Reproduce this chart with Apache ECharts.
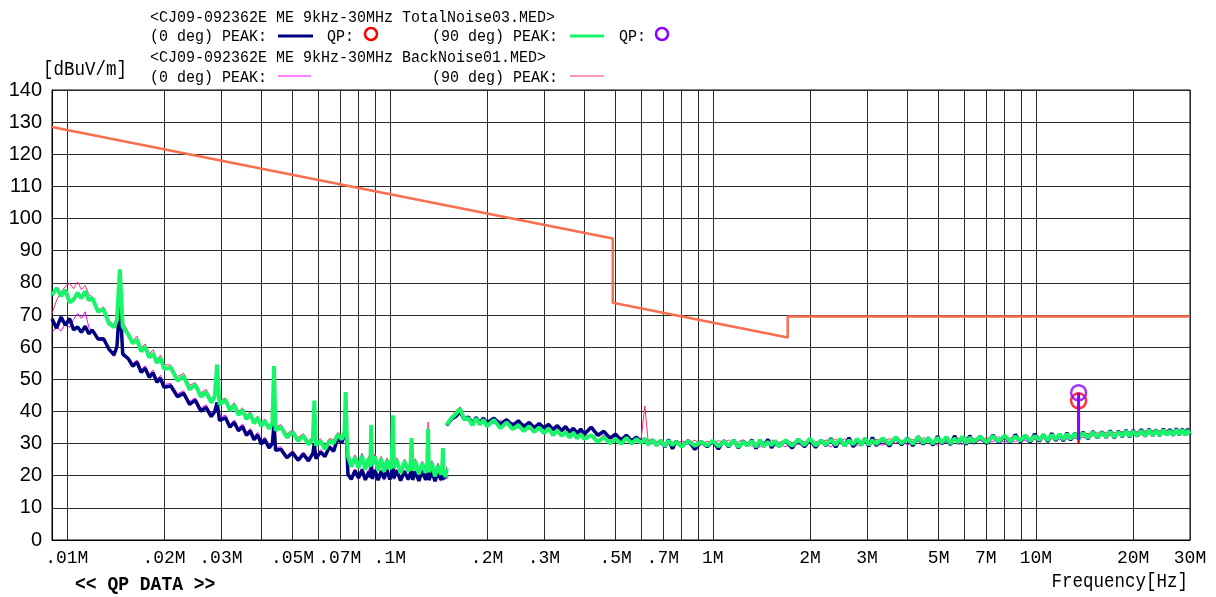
<!DOCTYPE html>
<html>
<head>
<meta charset="utf-8">
<script src="https://cdn.jsdelivr.net/npm/echarts@6.0.0/dist/echarts.min.js"></script>
<style>
html, body { margin: 0; padding: 0; background: #fff; }
#emi_chart { width: 1216px; height: 597px; }
</style>
</head>
<body>
<div id="emi_chart"></div>
<script>
// band 1 : 9kHz - 150kHz (kHz)
var band1Khz = [
    9, 9.3, 9.6, 9.9, 10.2, 10.5, 10.8, 11.1, 11.4, 11.7,
    12, 12.5, 13, 13.5, 14, 14.3, 14.6, 14.9, 15.5, 16,
    16.5, 17, 17.5, 18, 18.5, 19, 19.5, 20, 21, 22,
    23, 24, 25, 26, 27, 28, 28.7, 29.2, 29.7, 31,
    32, 33, 34, 35, 36, 37, 38, 39, 40, 41,
    42.3, 43.3, 43.8, 44.3, 46, 48, 50, 52, 54, 56,
    57.8, 58.4, 59, 61, 63, 65, 67, 69, 71, 72.4,
    73, 73.6, 74.2, 76, 78, 80, 82, 84, 86, 87,
    87.6, 88.2, 90, 92, 94, 96, 98, 100, 101.5, 102.2,
    103, 105, 108, 111, 114, 116, 116.8, 117.6, 120, 123,
    126, 129, 130.6, 131.4, 132.2, 135, 138, 141, 144, 145.3,
    146, 146.7, 149, 150
];
// TotalNoise03 90 deg PEAK
var green1 = [
    76.2, 78.4, 75.9, 77.8, 73.9, 74.8, 76.9, 75.2, 77.4, 74.6,
    75.3, 71.0, 71.8, 67.4, 66.2, 68.5, 84.2, 66.4, 63.9, 61.2,
    62.3, 58.7, 60.1, 56.8, 58.0, 55.1, 56.6, 53.3, 53.6, 49.6,
    51.0, 46.8, 48.3, 44.6, 46.0, 42.7, 44.6, 54.6, 42.1, 43.6,
    40.3, 42.0, 38.9, 40.4, 37.6, 39.2, 36.3, 38.0, 35.4, 37.1,
    34.6, 36.4, 54.1, 34.1, 35.2, 31.9, 33.6, 30.8, 32.4, 29.7,
    31.6, 43.4, 29.4, 30.8, 28.2, 30.9, 30.1, 32.8, 31.3, 33.6,
    46.0, 32.2, 26.1, 22.8, 25.7, 22.4, 26.2, 21.9, 25.4, 22.7,
    35.8, 23.4, 26.0, 21.5, 25.3, 21.2, 24.8, 22.0, 25.6, 38.8,
    22.3, 24.9, 20.8, 24.5, 21.3, 23.9, 31.7, 21.6, 24.6, 20.5,
    23.8, 20.9, 23.4, 34.6, 21.1, 24.0, 19.8, 23.2, 20.3, 22.6,
    28.6, 21.4, 19.6, 22.2
];
// TotalNoise03 0 deg PEAK
var navy1 = [
    68.8, 65.9, 69.4, 66.8, 68.9, 65.4, 66.3, 64.6, 66.5, 64.2,
    65.3, 62.5, 62.6, 59.4, 57.6, 60.2, 74.8, 57.9, 56.4, 54.1,
    55.3, 52.2, 53.4, 50.6, 52.0, 49.1, 50.3, 47.5, 47.9, 44.6,
    45.6, 42.2, 43.5, 40.1, 41.2, 38.4, 39.9, 42.8, 37.2, 38.0,
    35.1, 36.6, 34.0, 35.3, 32.6, 33.9, 31.2, 32.7, 29.8, 31.3,
    28.6, 30.0, 36.2, 27.9, 28.2, 25.6, 27.1, 24.8, 26.7, 24.6,
    27.0, 30.1, 25.3, 27.4, 26.0, 28.9, 27.6, 31.7, 30.2, 33.4,
    35.1, 29.8, 20.4, 18.9, 21.6, 19.3, 21.8, 18.7, 21.2, 19.5,
    24.2, 19.0, 21.7, 18.6, 21.4, 19.1, 21.9, 18.8, 21.0, 25.0,
    19.2, 21.6, 18.5, 21.3, 18.9, 21.0, 23.1, 18.7, 21.2, 18.4,
    21.5, 18.8, 20.9, 23.4, 18.6, 21.4, 18.3, 21.1, 18.7, 20.6,
    24.1, 18.9, 20.8, 19.4
];
// BackNoise01 90 deg PEAK
var pink1 = [
    70.4, 74.6, 77.1, 78.9, 79.8, 78.2, 80.3, 77.9, 79.2, 76.4,
    75.6, 71.4, 72.5, 68.3, 66.9, 69.1, 83.0, 67.9, 64.8, 62.0,
    63.4, 59.8, 61.0, 57.9, 59.2, 56.1, 57.5, 54.6, 54.4, 50.8,
    51.9, 48.1, 49.0, 45.8, 46.9, 43.9, 45.2, 53.8, 43.3, 44.2,
    41.4, 42.7, 40.0, 41.1, 38.7, 39.9, 37.4, 38.6, 36.5, 37.7,
    35.7, 37.0, 52.9, 35.2, 35.9, 33.0, 34.3, 31.9, 33.1, 30.8,
    32.3, 42.6, 30.5, 31.5, 29.3, 31.6, 31.2, 33.5, 32.4, 34.3,
    45.2, 33.0, 26.8, 23.9, 26.5, 23.5, 27.0, 23.0, 26.1, 23.8,
    35.1, 24.5, 26.7, 22.6, 26.0, 22.3, 25.5, 23.1, 26.3, 38.1,
    23.4, 25.6, 21.9, 25.2, 22.4, 24.6, 31.0, 22.7, 25.3, 21.6,
    24.5, 22.0, 24.1, 36.7, 22.2, 24.7, 20.9, 23.9, 21.4, 23.3,
    28.0, 22.5, 20.7, 22.9
];
// BackNoise01 0 deg PEAK
var magenta1 = [
    64.5, 66.2, 65.0, 67.4, 66.1, 68.7, 70.5, 68.9, 71.0, 66.2,
    64.9, 62.1, 62.0, 59.9, 57.1, 59.6, 73.6, 57.2, 57.0, 54.9,
    56.0, 53.1, 54.2, 51.5, 52.9, 50.0, 51.2, 48.4, 48.7, 45.5,
    46.4, 43.1, 44.2, 41.0, 42.1, 39.2, 40.6, 42.1, 38.0, 38.9,
    35.9, 37.3, 34.8, 36.1, 33.4, 34.7, 32.1, 33.5, 30.7, 32.0,
    29.4, 30.7, 35.4, 28.7, 29.0, 26.2, 27.9, 25.5, 27.4, 25.3,
    27.6, 29.5, 26.0, 28.1, 26.7, 29.5, 28.3, 32.2, 31.0, 34.0,
    34.4, 30.5, 21.0, 19.6, 22.1, 18.9, 22.3, 19.2, 21.9, 19.9,
    23.6, 19.5, 22.2, 19.0, 21.9, 18.6, 22.3, 19.3, 21.6, 24.3,
    18.8, 22.0, 19.0, 21.8, 18.5, 21.5, 22.6, 19.1, 21.7, 18.9,
    22.0, 18.4, 21.3, 22.9, 19.0, 21.9, 18.8, 21.6, 18.3, 21.1,
    23.5, 18.5, 21.2, 19.0
];

// band 2 : 150kHz - 30MHz (MHz)
var band2Mhz = [
    0.15, 0.155, 0.16, 0.165, 0.17, 0.175, 0.18, 0.185, 0.19, 0.195,
    0.2, 0.21, 0.22, 0.23, 0.24, 0.25, 0.26, 0.27, 0.28, 0.29,
    0.3, 0.31, 0.32, 0.33, 0.34, 0.35, 0.36, 0.37, 0.38, 0.39, 0.4,
    0.42, 0.44, 0.46, 0.48, 0.5, 0.52, 0.54, 0.56, 0.58, 0.6,
    0.616, 0.63, 0.65, 0.67, 0.69, 0.71, 0.73, 0.75, 0.77, 0.8, 0.84, 0.88, 0.92, 0.96,
    1.0, 1.04, 1.08, 1.12, 1.16, 1.2, 1.24, 1.28, 1.32, 1.36, 1.4, 1.44, 1.48, 1.52, 1.56, 1.6,
    1.68, 1.76, 1.84, 1.92, 2.0, 2.08, 2.16, 2.24, 2.32, 2.4,
    2.48, 2.56, 2.64, 2.72, 2.8, 2.88, 2.96, 3.04, 3.12, 3.2,
    3.36, 3.52, 3.68, 3.84, 4.0, 4.16, 4.32, 4.48, 4.64, 4.8,
    4.96, 5.12, 5.28, 5.44, 5.6, 5.76, 5.92, 6.08, 6.24, 6.4,
    6.72, 7.04, 7.36, 7.68, 8.0, 8.32, 8.64, 8.96, 9.28, 9.6,
    9.92, 10.24, 10.56, 10.88, 11.2, 11.52, 11.84, 12.16, 12.48, 12.8,
    13.2, 13.56, 14.0, 14.5, 15.0, 15.5, 16.0, 16.5, 17.0, 17.5, 18.0, 18.5, 19.0, 19.5, 20.0,
    20.6, 21.2, 21.8, 22.4, 23.0, 23.6, 24.2, 24.8, 25.4, 26.0, 26.6, 27.2, 27.8, 28.4, 29.0, 29.5, 30.0
];
var green2 = [
    35.8, 37.9, 39.2, 40.8, 37.6, 37.9, 35.7, 37.8, 35.9, 37.4,
    35.4, 37.3, 34.8, 36.6, 34.5, 35.7, 33.9, 35.4, 33.6, 35.0,
    33.2, 34.7, 32.6, 34.1, 32.4, 33.6, 31.9, 33.4, 31.6, 32.9, 31.4,
    32.6, 30.5, 32.0, 30.1, 31.5, 29.9, 31.8, 30.0, 31.4, 30.2,
    31.5, 29.6, 31.2, 29.4, 31.0, 29.2, 30.9, 29.5, 30.6, 29.1, 30.8, 29.3, 30.5, 29.4,
    30.9, 29.1, 30.7, 29.3, 31.0, 28.9, 30.6, 29.4, 30.8, 29.0, 31.1, 29.2, 30.5, 29.5, 30.9, 29.1,
    31.0, 29.3, 31.3, 29.5, 31.6, 29.4, 30.9, 29.7, 31.2, 29.6,
    31.4, 29.3, 31.0, 29.8, 31.5, 29.5, 31.7, 29.6, 31.1, 29.9,
    31.6, 29.8, 31.9, 30.1, 31.5, 29.9, 32.0, 30.2, 31.7, 30.0,
    31.8, 30.3, 32.1, 30.0, 31.6, 30.4, 32.2, 30.1, 31.9, 30.5,
    32.1, 30.4, 32.3, 30.7, 32.5, 30.6, 32.2, 30.9, 32.6, 30.8,
    32.4, 31.1, 32.8, 31.0, 32.7, 31.3, 32.9, 31.2, 33.0, 31.5,
    33.1, 31.6, 33.3, 31.8, 33.5, 31.9, 33.4, 32.1, 33.7, 32.0, 33.6, 32.3, 33.9, 32.2, 33.8,
    32.5, 34.0, 32.4, 34.2, 32.6, 34.1, 32.5, 34.3, 32.7, 34.0, 32.6, 34.4, 32.8, 34.2, 32.7, 34.1, 32.9
];
var navy2 = [
    35.6, 37.6, 38.4, 39.9, 37.5, 38.3, 36.2, 38.1, 36.5, 37.9,
    36.4, 37.9, 36.0, 37.4, 35.6, 37.1, 35.2, 36.6, 34.9, 36.2,
    34.9, 36.0, 34.3, 35.6, 34.0, 35.3, 33.5, 34.8, 33.1, 34.5, 32.9,
    35.1, 32.6, 33.8, 31.7, 32.9, 31.0, 32.6, 30.8, 32.0, 30.4,
    31.5, 29.8, 31.1, 29.5, 30.9, 29.0, 31.2, 28.4, 30.7, 29.1, 30.9, 28.2, 30.6, 29.0,
    30.8, 28.3, 30.9, 29.0, 31.1, 28.6, 30.7, 29.3, 31.2, 28.5, 30.8, 29.1, 31.3, 28.7, 30.6, 29.2,
    30.9, 28.6, 31.4, 29.0, 31.2, 28.8, 31.0, 29.4, 31.6, 28.9,
    31.3, 29.2, 31.8, 29.0, 31.1, 29.5, 31.6, 29.1, 31.9, 29.4,
    31.5, 29.2, 32.0, 29.6, 31.7, 29.3, 32.2, 29.8, 31.8, 29.5,
    32.3, 29.9, 31.9, 29.6, 32.4, 30.0, 32.1, 29.7, 32.5, 30.1,
    32.2, 30.0, 32.6, 30.3, 32.4, 30.2, 32.8, 30.5, 32.6, 30.4,
    33.0, 30.7, 32.8, 30.6, 33.2, 30.9, 33.0, 30.8, 33.4, 31.1,
    33.2, 31.4, 33.6, 31.5, 33.8, 31.7, 33.7, 31.9, 34.0, 31.8, 33.9, 32.1, 34.2, 32.0, 34.1,
    32.3, 34.4, 32.2, 34.5, 32.5, 34.3, 32.4, 34.6, 32.6, 34.4, 32.5, 34.7, 32.7, 34.5, 32.6, 34.6, 32.8
];
var pink2 = [
    36.5, 37.8, 40.2, 41.4, 38.6, 37.2, 36.4, 37.9, 36.6, 37.3,
    36.3, 37.2, 35.6, 36.7, 35.3, 34.9, 35.8, 34.3, 35.1, 34.0,
    34.8, 33.7, 34.4, 33.1, 33.9, 33.0, 33.6, 32.5, 33.2, 32.1, 32.8,
    31.9, 32.6, 31.3, 30.8, 31.7, 31.1, 32.0, 30.9, 31.5, 31.6,
    41.7, 31.0, 31.4, 30.6, 31.2, 30.2, 30.9, 30.5, 30.1, 30.8, 30.3, 31.0, 30.0, 30.7,
    30.2, 30.9, 30.4, 31.1, 29.9, 30.6, 31.2, 30.3, 30.8, 30.1, 31.0, 30.5, 30.2, 31.1, 30.7, 30.4,
    30.9, 30.3, 31.2, 30.6, 30.8, 30.7, 30.4, 31.1, 30.8, 31.3,
    30.5, 31.5, 30.9, 30.4, 31.2, 30.7, 31.6, 31.0, 30.5, 31.3,
    30.8, 31.5, 31.1, 30.6, 31.7, 31.2, 30.9, 31.8, 31.3, 30.7,
    31.5, 31.1, 31.9, 31.0, 31.4, 31.7, 31.2, 32.0, 31.3, 31.6,
    31.1, 31.8, 31.4, 32.1, 31.3, 31.7, 32.2, 31.5, 31.9, 31.6,
    32.3, 32.0, 32.5, 31.8, 32.4, 32.1, 32.7, 32.2, 32.8, 32.4,
    32.9, 33.1, 32.5, 33.2, 32.8, 33.4, 33.0, 33.6, 33.1, 33.5, 33.2, 33.8, 33.3, 33.7, 33.4,
    33.9, 33.5, 34.0, 33.6, 34.1, 33.7, 34.0, 33.5, 34.2, 33.8, 34.1, 33.6, 34.3, 33.9, 34.1, 33.7, 34.0
];
var magenta2 = [
    35.8, 37.0, 38.6, 39.8, 37.7, 37.1, 36.3, 37.5, 36.6, 37.0,
    36.8, 36.1, 37.3, 35.9, 36.6, 35.5, 36.2, 35.1, 35.8, 34.9,
    35.6, 34.5, 35.2, 34.3, 34.7, 33.8, 34.5, 33.4, 34.2, 33.3, 33.9,
    34.4, 33.0, 32.5, 31.8, 31.2, 32.0, 30.9, 31.5, 30.6, 31.1,
    30.3, 30.9, 30.1, 30.6, 29.6, 30.3, 29.8, 29.0, 30.1, 29.3, 29.9, 28.6, 29.7, 29.2,
    29.8, 28.5, 30.0, 29.4, 30.2, 28.9, 29.7, 30.3, 29.1, 29.9, 28.8, 30.1, 29.5, 30.4, 29.2, 29.7,
    29.0, 30.3, 29.7, 29.3, 30.6, 29.1, 30.2, 29.8, 28.9, 30.4,
    30.0, 29.4, 30.7, 29.9, 29.3, 30.5, 30.1, 29.6, 30.8, 30.0,
    29.5, 30.6, 30.1, 30.9, 29.6, 30.3, 30.7, 29.8, 31.0, 30.2,
    29.5, 30.8, 30.4, 29.9, 31.1, 30.3, 29.7, 30.9, 30.6, 30.1,
    31.0, 30.2, 30.7, 31.4, 30.4, 31.1, 30.6, 31.5, 30.9, 30.5,
    31.3, 31.0, 31.8, 30.7, 31.4, 31.9, 31.1, 31.7, 31.3, 32.1,
    31.5, 32.3, 31.9, 31.6, 32.5, 32.0, 32.7, 32.1, 32.6, 32.2, 32.9, 32.4, 33.1, 32.5, 32.8,
    33.2, 32.6, 33.4, 32.9, 33.6, 33.0, 33.3, 33.7, 33.1, 33.5, 32.9, 33.8, 33.2, 33.6, 33.0, 33.7, 33.4
];

// limit line (MHz, dBuV/m)
var limitFreq = [0.009, 0.49, 0.49, 1.705, 1.705, 30];
var limitLevel = [128.5, 93.8, 73.8, 63.0, 69.5, 69.5];

// QP results
var qpFreq = 13.56;
var qp0deg = 43.3;
var qp90deg = 45.8;
var qp0Base = 30.0;
var qp90Base = 31.0;

// axis ticks
var gridFreqs = [0.01, 0.02, 0.03, 0.04, 0.05, 0.06, 0.07, 0.08, 0.09,
    0.1, 0.2, 0.3, 0.4, 0.5, 0.6, 0.7, 0.8, 0.9,
    1, 2, 3, 4, 5, 6, 7, 8, 9, 10, 20, 30];
var labelFreqs = [0.01, 0.02, 0.03, 0.05, 0.07, 0.1, 0.2, 0.3, 0.5, 0.7, 1, 2, 3, 5, 7, 10, 20, 30];
var labelTexts = ['.01M', '.02M', '.03M', '.05M', '.07M', '.1M', '.2M', '.3M', '.5M', '.7M',
    '1M', '2M', '3M', '5M', '7M', '10M', '20M', '30M'];

function makeTrace(y1, y2) {
    var d = [];
    for (var i = 0; i < band1Khz.length; i++) d.push([band1Khz[i] / 1000, y1[i]]);
    d.push([0.15, null]);
    for (var j = 0; j < band2Mhz.length; j++) d.push([band2Mhz[j], y2[j]]);
    return d;
}

var limitData = limitFreq.map(function (f, i) { return [f, limitLevel[i]]; });

var monoFont = '"Liberation Mono", "DejaVu Sans Mono", monospace';

function legendText(x, y, txt) {
    return {
        type: 'text', x: x, y: y, scaleY: 1.15, silent: true,
        style: { text: txt, font: '15px ' + monoFont, fill: '#000', textVerticalAlign: 'middle' }
    };
}
function legendLine(x1, x2, y, color, w) {
    return {
        type: 'line', silent: true,
        shape: { x1: x1, y1: y, x2: x2, y2: y },
        style: { stroke: color, lineWidth: w }
    };
}
function legendCircle(cx, cy, color) {
    return {
        type: 'circle', silent: true,
        shape: { cx: cx, cy: cy, r: 6 },
        style: { fill: 'none', stroke: color, lineWidth: 2.5 }
    };
}

var emi_option = {
    animation: false,
    backgroundColor: '#fff',
    grid: {
        left: 52, right: 26, top: 90, bottom: 57,
        show: true, borderColor: '#000', borderWidth: 1,
        containLabel: false, outerBoundsMode: 'none'
    },
    xAxis: {
        type: 'log',
        logBase: 10,
        min: 0.009,
        max: 30,
        axisLine: { show: true, lineStyle: { color: '#000', width: 1 } },
        axisTick: { show: false, customValues: gridFreqs },
        splitLine: { show: true, lineStyle: { color: '#2a2a2a', width: 1 } },
        axisLabel: {
            customValues: labelFreqs,
            margin: 9,
            color: '#000',
            fontSize: 18,
            fontFamily: monoFont,
            formatter: function (v) {
                for (var i = 0; i < labelFreqs.length; i++) {
                    if (Math.abs(v - labelFreqs[i]) / labelFreqs[i] < 1e-6) return labelTexts[i];
                }
                return '';
            }
        }
    },
    yAxis: {
        type: 'value',
        min: 0,
        max: 140,
        interval: 10,
        axisLine: { show: true, lineStyle: { color: '#000', width: 1 } },
        axisTick: { show: false },
        splitLine: { show: true, lineStyle: { color: '#2a2a2a', width: 1 } },
        axisLabel: {
            margin: 10,
            color: '#000',
            fontSize: 20,
            fontFamily: '"Liberation Sans", Arial, sans-serif'
        }
    },
    graphic: {
        elements: [
            legendText(150, 17, '<CJ09-092362E ME 9kHz-30MHz TotalNoise03.MED>'),
            legendText(150, 36, '(0 deg) PEAK:'),
            legendLine(278, 313, 36, '#000080', 3),
            legendText(327, 36, 'QP:'),
            legendCircle(371, 34, '#ff0000'),
            legendText(432, 36, '(90 deg) PEAK:'),
            legendLine(570, 604, 36, '#19f56b', 3),
            legendText(619, 36, 'QP:'),
            legendCircle(662, 34, '#8b00ff'),
            legendText(150, 57, '<CJ09-092362E ME 9kHz-30MHz BackNoise01.MED>'),
            legendText(150, 77, '(0 deg) PEAK:'),
            legendLine(278, 311, 76, '#ff00ff', 1),
            legendText(432, 77, '(90 deg) PEAK:'),
            legendLine(570, 604, 76, '#f0307a', 1),
            {
                type: 'text', x: 43, y: 69, scaleY: 1.2, silent: true,
                style: { text: '[dBuV/m]', font: '17.5px ' + monoFont, fill: '#000', textVerticalAlign: 'middle' }
            },
            {
                type: 'text', x: 1188, y: 581, scaleY: 1.2, silent: true,
                style: { text: 'Frequency[Hz]', font: '17.5px ' + monoFont, fill: '#000', textAlign: 'right', textVerticalAlign: 'middle' }
            },
            {
                type: 'text', x: 75, y: 585, scaleY: 1.15, silent: true,
                style: { text: '<< QP DATA >>', font: 'bold 18px ' + monoFont, fill: '#000', textVerticalAlign: 'middle' }
            }
        ]
    },
    series: [
        {
            name: 'BackNoise01 0 deg PEAK', type: 'line', symbol: 'none',
            lineStyle: { color: '#ff00ff', width: 1 },
            data: makeTrace(magenta1, magenta2)
        },
        {
            name: 'BackNoise01 90 deg PEAK', type: 'line', symbol: 'none',
            lineStyle: { color: '#f0307a', width: 1 },
            data: makeTrace(pink1, pink2)
        },
        {
            name: 'TotalNoise03 0 deg PEAK', type: 'line', symbol: 'none',
            lineStyle: { color: '#000080', width: 3.5 },
            data: makeTrace(navy1, navy2)
        },
        {
            name: 'TotalNoise03 90 deg PEAK', type: 'line', symbol: 'none',
            lineStyle: { color: '#19f56b', width: 4 },
            data: makeTrace(green1, green2)
        },
        {
            name: 'Limit', type: 'line', symbol: 'none',
            lineStyle: { color: '#f86e4e', width: 2.5 },
            data: limitData
        },
        {
            name: 'QP 0 deg stem', type: 'line', symbol: 'none',
            lineStyle: { color: '#ff0000', width: 2.5 },
            data: [[qpFreq, qp0Base], [qpFreq, qp0deg]]
        },
        {
            name: 'QP 90 deg stem', type: 'line', symbol: 'none',
            lineStyle: { color: '#8b00ff', width: 3 },
            data: [[qpFreq, qp90Base], [qpFreq, qp90deg]]
        },
        {
            name: 'QP 0 deg', type: 'scatter', symbol: 'circle', symbolSize: 15,
            itemStyle: { color: 'rgba(0,0,0,0)', borderColor: '#ff0000', borderWidth: 2.5 },
            data: [[qpFreq, qp0deg]]
        },
        {
            name: 'QP 90 deg', type: 'scatter', symbol: 'circle', symbolSize: 15,
            itemStyle: { color: 'rgba(0,0,0,0)', borderColor: '#8b00ff', borderWidth: 2.5 },
            data: [[qpFreq, qp90deg]]
        }
    ]
};

var emi_chart = echarts.init(document.getElementById('emi_chart'));
emi_chart.setOption(emi_option);
</script>
</body>
</html>
